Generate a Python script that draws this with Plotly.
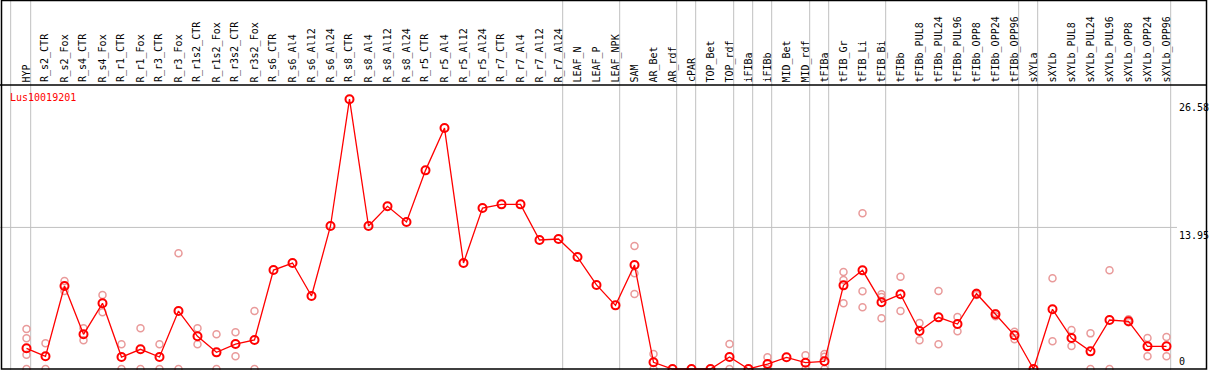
import plotly.graph_objects as go

# ---------------- data ----------------
categories = [
    "HYP", "R_s2_CTR", "R_s2_Fox", "R_s4_CTR", "R_s4_Fox", "R_r1_CTR", "R_r1_Fox",
    "R_r3_CTR", "R_r3_Fox", "R_r1s2_CTR", "R_r1s2_Fox", "R_r3s2_CTR", "R_r3s2_Fox",
    "R_s6_CTR", "R_s6_Al4", "R_s6_Al12", "R_s6_Al24", "R_s8_CTR", "R_s8_Al4",
    "R_s8_Al12", "R_s8_Al24", "R_r5_CTR", "R_r5_Al4", "R_r5_Al12", "R_r5_Al24",
    "R_r7_CTR", "R_r7_Al4", "R_r7_Al12", "R_r7_Al24", "LEAF_N", "LEAF_P", "LEAF_NPK",
    "SAM", "AR_Bet", "AR_rdf", "cPAR", "TOP_Bet", "TOP_rdf", "iFIBa", "iFIBb",
    "MID_Bet", "MID_rdf", "tFIBa", "tFIB_Gr", "tFIB_Li", "tFIB_Bi", "tFIBb",
    "tFIBb_PUL8", "tFIBb_PUL24", "tFIBb_PUL96", "tFIBb_OPP8", "tFIBb_OPP24",
    "tFIBb_OPP96", "sXYLa", "sXYLb", "sXYLb_PUL8", "sXYLb_PUL24", "sXYLb_PUL96",
    "sXYLb_OPP8", "sXYLb_OPP24", "sXYLb_OPP96",
]

mean_values = [
    2.04, 1.25, 8.18, 3.42, 6.47, 1.18, 1.94, 1.18, 5.71, 3.22, 1.64, 2.46, 2.86,
    9.75, 10.44, 7.19, 14.09, 26.58, 14.09, 16.03, 14.48, 19.57, 23.74, 10.44, 15.86,
    16.22, 16.22, 12.71, 12.81, 11.03, 8.28, 6.27,
    10.25, 0.66, 0.0, 0.0, 0.0, 1.18, 0.0, 0.49,
    1.15, 0.62, 0.76, 8.24, 9.72, 6.57, 7.36,
    3.74, 5.09, 4.43, 7.42, 5.39,
    3.32, 0.0, 5.88, 3.05, 1.74, 4.83,
    4.70, 2.23, 2.23,
]

rep_a = [
    3.94, 2.53, 8.67, 4.01, 7.29, 2.43, 4.01, 2.43, 11.4, 4.01, 3.42, 3.62, 5.71,
    None, None, None, None, None, None, None, None, None, None, None, None,
    None, None, None, None, None, None, None,
    12.12, 1.48, None, None, None, 2.46, None, 1.15,
    None, 1.35, 1.48, 9.56, 15.34, 7.36, 9.09,
    4.53, 7.68, 5.12, 7.50, 5.50,
    3.68, None, 8.93, 3.84, 3.51, 9.72,
    4.90, 3.05, 3.15,
]
rep_b = [
    3.02, 0.0, 7.69, 2.83, 5.58, 0.0, 0.0, 0.0, 0.0, 2.43, 0.0, 1.25, 0.0,
    None, None, None, None, None, None, None, None, None, None, None, None,
    None, None, None, None, None, None, None,
    9.43, 0.0, None, None, None, 0.0, None, 0.0,
    None, 0.0, 1.21, 8.77, 7.65, 7.10, 5.71,
    2.83, 2.43, 3.71, 7.30, 5.20,
    2.92, None, 2.73, 2.27, 0.0, 0.0,
    4.60, 1.25, 1.25,
]
rep_c = [
    1.41, None, None, None, None, None, None, None, None, None, None, None, None,
    None, None, None, None, None, None, None, None, None, None, None, None,
    None, None, None, None, None, None, None,
    7.39, None, None, None, None, None, None, None,
    None, None, 0.0, 6.47, 6.08, 5.00, None,
    None, None, None, None, None,
    None, None, None, None, None, None,
    None, None, None,
]
rep_d = [0.0] + [None] * 60

group_sizes = [1, 28, 3, 3, 1, 2, 1, 1, 2, 1, 3, 7, 1, 7]

gene_label = "Lus10019201"
y_tick_vals = [26.58, 13.95, 0]
y_tick_text = ["26.58", "13.95", "0"]

# ---------------- layout constants ----------------
W, H = 1209, 370
PX_PER_CAT = 19.0
FIRST_CAT_PX = 26.5
PX_PER_UNIT = 10.15
ZERO_PX = 369.0

x_range = [-FIRST_CAT_PX / PX_PER_CAT, (W - FIRST_CAT_PX) / PX_PER_CAT]
y_range = [-(H - ZERO_PX) / PX_PER_UNIT, ZERO_PX / PX_PER_UNIT]

FONT = "DejaVu Sans Mono"
GRID = "#c0c0c0"
RED = "#ff0000"
PINK = "#e99a9a"

fig = go.Figure()

# replicate points
for reps in (rep_a, rep_b, rep_c, rep_d):
    xs = [c for c, v in zip(categories, reps) if v is not None]
    ys = [v for v in reps if v is not None]
    fig.add_trace(go.Scatter(
        x=xs, y=ys, mode="markers",
        marker=dict(symbol="circle-open", size=7, color=PINK, line=dict(width=1.5, color=PINK)),
        showlegend=False, hoverinfo="skip", cliponaxis=True,
    ))

# mean line
fig.add_trace(go.Scatter(
    x=categories, y=mean_values, mode="lines+markers",
    line=dict(color=RED, width=1.3),
    marker=dict(symbol="circle-open", size=8, color=RED, line=dict(width=2, color=RED)),
    showlegend=False, cliponaxis=True,
))

shapes = []
# group separator lines
boundaries = [-0.833]
idx = -1
for g in group_sizes:
    idx += g
    boundaries.append(idx + 0.22)
for b in boundaries:
    shapes.append(dict(type="line", xref="x", yref="paper", x0=b, x1=b, y0=0, y1=1,
                       line=dict(color=GRID, width=1), layer="below"))
# horizontal mid grid line
shapes.append(dict(type="line", xref="paper", yref="y", x0=0, x1=1177 / W,
                   y0=y_tick_vals[1], y1=y_tick_vals[1], line=dict(color=GRID, width=1), layer="below"))
# header separator
hdr_y = 1 - 85 / H
shapes.append(dict(type="line", xref="paper", yref="paper", x0=0, x1=1207 / W,
                   y0=hdr_y, y1=hdr_y, line=dict(color="black", width=1.5)))
# outer frame
shapes.append(dict(type="rect", xref="paper", yref="paper", x0=1.5 / W, x1=1206.5 / W,
                   y0=1 - 369 / H, y1=1 - 0.5 / H, line=dict(color="black", width=1.5)))

annotations = []
for c in categories:
    annotations.append(dict(
        x=c, xref="x", y=1 - 83.5 / H, yref="paper", text=c, showarrow=False,
        textangle=-90, xanchor="center", yanchor="bottom", xshift=-0.5,
        font=dict(family=FONT, size=10, color="black"), borderpad=0,
    ))
annotations.append(dict(
    x=9 / W, xref="paper", y=1 - 97.5 / H, yref="paper", text=gene_label,
    showarrow=False, xanchor="left", yanchor="middle",
    font=dict(family=FONT, size=10, color=RED), borderpad=0,
))
for v, t in zip(y_tick_vals, y_tick_text):
    annotations.append(dict(
        x=1178 / W, xref="paper", y=v, yref="y", text=t, showarrow=False,
        xanchor="left", yanchor="bottom" if v == 0 else "top",
        yshift=1 if v == 0 else -2,
        font=dict(family=FONT, size=10, color="black"), borderpad=0,
    ))

fig.update_layout(
    width=W, height=H,
    margin=dict(l=0, r=0, t=0, b=0, pad=0),
    paper_bgcolor="white", plot_bgcolor="white",
    xaxis=dict(type="category", categoryorder="array", categoryarray=categories,
               range=x_range, showgrid=False, zeroline=False,
               showticklabels=False, ticks="", showline=False, fixedrange=True),
    yaxis=dict(range=y_range, showgrid=False, zeroline=False, showticklabels=False,
               ticks="", showline=False, fixedrange=True),
    shapes=shapes, annotations=annotations, showlegend=False,
)

fig.write_html(
    "out.html",
    config={"displayModeBar": False},
    post_script="document.body.style.margin='0';document.body.style.overflow='hidden';",
)
